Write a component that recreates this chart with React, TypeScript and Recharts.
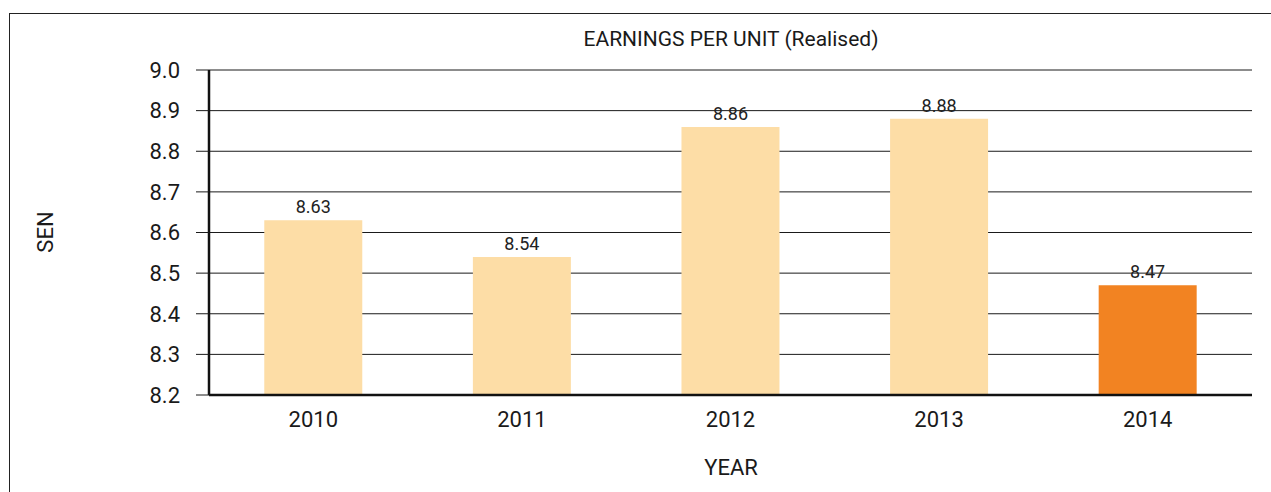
import { BarChart, Bar, XAxis, YAxis, CartesianGrid, Cell, LabelList } from 'recharts';

const years = ['2010', '2011', '2012', '2013', '2014'];
const earningsPerUnit = [8.63, 8.54, 8.86, 8.88, 8.47];
const yTicks = [8.2, 8.3, 8.4, 8.5, 8.6, 8.7, 8.8, 8.9, 9.0];

const data = years.map((year, i) => ({ year, value: earningsPerUnit[i] }));

const FONT = 'Roboto, "Liberation Sans", sans-serif';

export default function App() {
    return (
        <div style={{ position: 'absolute', left: 0, top: 0, width: 1271, height: 492, background: '#fff', fontFamily: FONT, overflow: 'hidden' }}>
            <div style={{ position: 'absolute', left: 9, top: 13, width: 1300, height: 500, borderLeft: '1.5px solid #222', borderTop: '1.5px solid #222' }} />
            <div style={{ position: 'absolute', left: 0, width: 1462, top: 27, textAlign: 'center', fontSize: 21, color: '#1a1a1a' }}>
                EARNINGS PER UNIT (Realised)
            </div>
            <div style={{ position: 'absolute', left: 45, top: 232, transform: 'translate(-50%, -50%) rotate(-90deg)', fontSize: 22, color: '#1a1a1a' }}>
                SEN
            </div>
            <div style={{ position: 'absolute', left: 0, width: 1462, top: 455, textAlign: 'center', fontSize: 22, color: '#1a1a1a' }}>
                YEAR
            </div>
            <div style={{ position: 'absolute', left: 0, top: 0 }}>
                <BarChart width={1271} height={492} data={data} margin={{ top: 70, right: 19, bottom: 57, left: 0 }} barCategoryGap="26.5%">
                    <CartesianGrid vertical={false} stroke="#1a1a1a" strokeWidth={1} />
                    <XAxis
                        dataKey="year"
                        height={40}
                        tickLine={false}
                        axisLine={{ stroke: '#111', strokeWidth: 2.5 }}
                        tick={{ fontSize: 22, fill: '#1a1a1a', fontFamily: FONT }}
                        tickMargin={10}
                    />
                    <YAxis
                        width={209}
                        domain={[8.2, 9.0]}
                        ticks={yTicks}
                        interval={0}
                        tickFormatter={(v: number) => v.toFixed(1)}
                        tickSize={13}
                        tickLine={{ stroke: '#1a1a1a' }}
                        axisLine={{ stroke: '#111', strokeWidth: 2.5 }}
                        tick={{ fontSize: 22, fill: '#1a1a1a', fontFamily: FONT }}
                        tickMargin={16}
                    />
                    <Bar dataKey="value" isAnimationActive={false}>
                        {data.map((d, i) => (
                            <Cell key={d.year} fill={i === data.length - 1 ? '#F28322' : '#FDDDA6'} />
                        ))}
                        <LabelList dataKey="value" position="top" offset={7} style={{ fontSize: 18, fill: '#222', fontFamily: FONT }} />
                    </Bar>
                </BarChart>
            </div>
        </div>
    );
}
